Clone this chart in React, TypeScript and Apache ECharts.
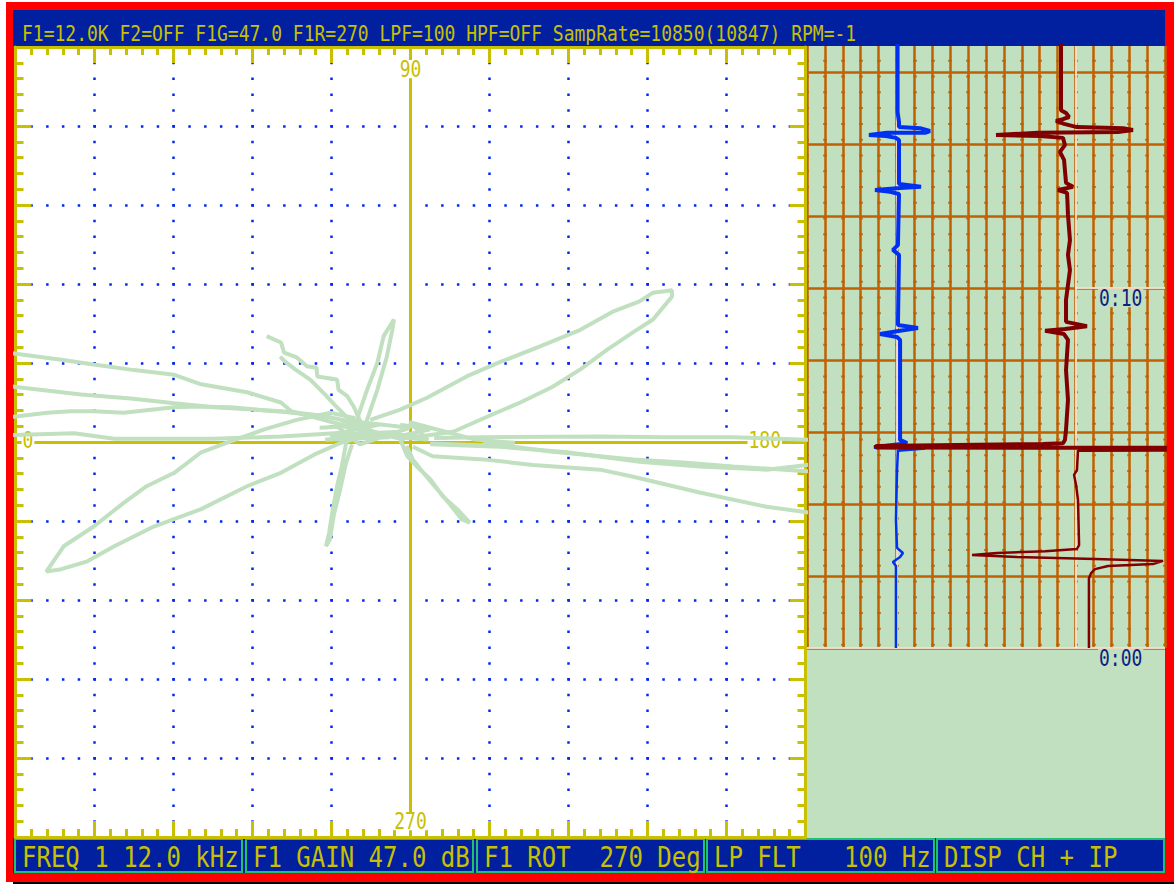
import React, { useEffect, useRef } from "react";
import * as echarts from "echarts";

type Pt = [number, number];

// ---------- texts ----------
const headerText =
  "F1=12.0K F2=OFF F1G=47.0 F1R=270 LPF=100 HPF=OFF SampRate=10850(10847) RPM=-1";
const footerCells = [
  "FREQ 1 12.0 kHz",
  "F1 GAIN 47.0 dB",
  "F1 ROT  270 Deg",
  "LP FLT   100 Hz",
  "DISP CH + IP",
];
const phaseLabels = ["0", "90", "180", "270"]; // left, top, right, bottom
const timeLabels = ["0:00", "0:10"];
const timeLabelValues = [0, 10];

// ---------- impedance-plane trace (divisions: x horizontal, y vertical) ----------
const sweepLeft1: Pt[] = [[-0.8, 0.2], [-1.51, 0.39], [-1.64, 0.5], [-2.07, 0.63], [-2.65, 0.73], [-2.99, 0.85], [-3.5, 0.91], [-4.01, 0.98], [-4.42, 1.04], [-5.02, 1.12], [-5.3, 1.15]];
const sweepLeft2: Pt[] = [[-0.59, 0.22], [-1.01, 0.31], [-1.64, 0.39], [-2.49, 0.44], [-2.99, 0.49], [-3.54, 0.55], [-4.17, 0.6], [-5.02, 0.7], [-5.3, 0.73]];
const sweepLeft3: Pt[] = [[-1.01, 0.32], [-1.44, 0.37], [-1.85, 0.4], [-2.27, 0.44], [-2.7, 0.45], [-2.99, 0.44], [-3.63, 0.37], [-4.01, 0.39], [-4.3, 0.39], [-4.6, 0.37], [-5.02, 0.32], [-5.3, 0.3]];
const sweepLeft4: Pt[] = [[-0.8, 0.12], [-1.64, 0.07], [-2.49, 0.04], [-3.75, 0.04], [-4.26, 0.11], [-5.02, 0.09], [-5.3, 0.09]];
const lobeLowerLeft: Pt[] = [[-0.7, 0.3], [-1.01, 0.37], [-1.44, 0.28], [-1.85, 0.16], [-2.27, 0.01], [-2.65, -0.13], [-2.99, -0.39], [-3.34, -0.56], [-3.63, -0.77], [-4.01, -1.07], [-4.39, -1.32], [-4.61, -1.64], [-4.42, -1.61], [-4.09, -1.51], [-3.75, -1.32], [-3.25, -1.07], [-2.65, -0.85], [-2.07, -0.56], [-1.64, -0.39], [-1.22, -0.16], [-0.88, -0.01], [-0.51, 0.09]];
const lobeUpperRight: Pt[] = [[-0.51, 0.28], [-0.13, 0.41], [0.21, 0.56], [0.71, 0.83], [1.13, 1.01], [1.64, 1.21], [2.15, 1.42], [2.56, 1.65], [2.9, 1.78], [3.07, 1.89], [3.31, 1.92], [3.31, 1.84], [3.07, 1.55], [2.82, 1.39], [2.49, 1.17], [2.15, 0.92], [1.8, 0.7], [1.39, 0.5], [0.97, 0.32], [0.54, 0.13], [0.12, 0.07], [-0.3, 0.1]];
const spikeUp: Pt[] = [[-0.68, 0.2], [-0.68, 0.28], [-0.55, 0.66], [-0.42, 1.0], [-0.34, 1.34], [-0.21, 1.55], [-0.23, 1.42], [-0.3, 1.08], [-0.42, 0.66], [-0.55, 0.28], [-0.61, 0.13]];
const spikeDown: Pt[] = [[-0.8, 0.07], [-0.87, -0.31], [-0.93, -0.56], [-0.99, -0.89], [-1.03, -1.15], [-1.07, -1.32], [-1.02, -1.23], [-0.97, -0.92], [-0.89, -0.6], [-0.82, -0.28], [-0.74, -0.03]];
const spikeDownRight: Pt[] = [[-0.13, 0.03], [-0.04, -0.18], [0.08, -0.31], [0.25, -0.47], [0.41, -0.69], [0.59, -0.85], [0.75, -1.02], [0.65, -0.98], [0.5, -0.79], [0.34, -0.6], [0.18, -0.41], [0.03, -0.22], [-0.05, -0.05]];
const wiggleUpperLeft: Pt[] = [[-1.82, 1.34], [-1.64, 1.26], [-1.6, 1.13], [-1.44, 1.07], [-1.31, 0.96], [-1.19, 0.94], [-1.18, 0.83], [-0.93, 0.79], [-0.91, 0.66], [-0.8, 0.58], [-0.72, 0.45], [-0.63, 0.25], [-0.77, 0.28], [-0.96, 0.47], [-1.08, 0.6], [-1.27, 0.79], [-1.46, 0.92], [-1.59, 1.02], [-1.65, 1.08]];
const sweepRight1: Pt[] = [[0.03, -0.06], [0.28, -0.18], [0.92, -0.22], [1.55, -0.29], [2.4, -0.35], [2.82, -0.44], [3.66, -0.64], [4.51, -0.82], [5.02, -0.89], [5.3, -0.92]];
const sweepRight2: Pt[] = [[0.92, -0.01], [1.77, -0.12], [2.82, -0.22], [3.45, -0.26], [4.08, -0.31], [5.02, -0.37], [5.3, -0.38]];
const sweepRight3: Pt[] = [[0.25, -0.03], [1.13, -0.06], [1.98, -0.13], [2.9, -0.25], [3.66, -0.31], [4.51, -0.35], [5.02, -0.29], [5.3, -0.27]];
const sweepRight4: Pt[] = [[0.3, 0.05], [0.92, 0.06], [2.4, 0.07], [3.25, 0.06], [4.08, 0.06], [5.02, 0.03], [5.3, 0.03]];
const clusterA: Pt[] = [[-1.15, 0.18], [-0.39, 0.22], [-1.02, 0.09], [-0.13, 0.13], [-1.08, 0.03], [-0.26, 0.06], [-0.89, 0.28], [-0.01, 0.18], [-0.64, -0.03], [-0.96, 0.22], [-0.07, 0.03]];
const clusterB: Pt[] = [[-0.13, 0.22], [0.25, 0.16], [-0.2, 0.06], [0.22, 0.03], [-0.01, 0.25], [0.82, 0.03], [1.32, -0.01], [0.88, -0.04], [0.25, -0.02]];

// ---------- strip chart (column units, seconds) ----------
const blueUpper: Pt[] = [[5.06, 16.8], [5.06, 14.89], [5.14, 14.61], [5.14, 14.47], [6.31, 14.44], [6.87, 14.36], [6.59, 14.31], [4.47, 14.31], [3.46, 14.25], [4.41, 14.22], [4.97, 14.17], [5.14, 14.11], [5.14, 12.89], [6.37, 12.81], [5.2, 12.78], [3.8, 12.72], [4.64, 12.67], [5.14, 12.61], [5.08, 11.19], [4.8, 11.06], [5.14, 10.92], [5.08, 8.97], [6.2, 8.89], [5.2, 8.81], [4.08, 8.72], [5.03, 8.64], [5.2, 8.56], [5.2, 5.78], [5.59, 5.69], [3.74, 5.58], [6.59, 5.56], [5.08, 5.5]];
const blueLower: Pt[] = [[5.08, 5.5], [5.03, 4.94], [4.97, 3.56], [5.03, 2.78], [5.36, 2.64], [5.2, 2.53], [4.8, 2.39], [4.97, 2.28], [4.97, 1.33], [4.97, 0]];
const redUpper: Pt[] = [[14.19, 16.8], [14.19, 14.94], [14.47, 14.86], [14.64, 14.75], [14.3, 14.69], [13.91, 14.64], [14.36, 14.56], [15.08, 14.47], [17.65, 14.44], [18.21, 14.39], [17.37, 14.33], [12.91, 14.31], [10.56, 14.25], [13.02, 14.22], [14.3, 14.17], [14.41, 13.97], [14.13, 13.78], [14.36, 13.56], [14.47, 12.92], [14.86, 12.81], [14.02, 12.72], [14.53, 12.64], [14.58, 12.03], [14.69, 11.33], [14.58, 10.92], [14.69, 10.5], [14.47, 9.67], [14.47, 9.06], [15.64, 8.94], [14.41, 8.86], [13.3, 8.81], [14.36, 8.72], [14.58, 8.56], [14.47, 7.72], [14.58, 6.89], [14.47, 6.06], [14.41, 5.78], [14.3, 5.69], [13.18, 5.67], [3.85, 5.61], [3.85, 5.57], [20.2, 5.56], [20.2, 5.51], [15.14, 5.5]];
const redLower: Pt[] = [[15.14, 5.5], [15.08, 4.94], [14.92, 4.81], [15.03, 4.53], [15.14, 4.11], [15.2, 2.86], [15.08, 2.75], [13.3, 2.69], [10.61, 2.64], [9.22, 2.58], [11.73, 2.53], [16.09, 2.47], [19.89, 2.42], [19.33, 2.33], [16.82, 2.28], [16.09, 2.19], [15.87, 2.08], [15.75, 1.94], [15.75, 0]];

// ---------- styling ----------
const RED = "#ff0000";
const BAR = "#0020a0";
const YEL = "#c8c000";
const DOT = "#0028f0";
const TRACE = "#c0e0c0";
const PANEL = "#c0e0c0";
const ORANGE = "#c06000";
const CELL = "#20c070";
const BLUE = "#0030f0";
const MAROON = "#800000";
const NAVY = "#102080";
const MONO = '"DejaVu Sans Mono", "Liberation Mono", monospace';

const planeStrokes: Pt[][] = [
  sweepLeft1, sweepLeft2, sweepLeft3, sweepLeft4, lobeLowerLeft, lobeUpperRight,
  spikeUp, spikeDown, spikeDownRight, wiggleUpperLeft,
  sweepRight1, sweepRight2, sweepRight3, sweepRight4, clusterA, clusterB,
];

function frameAxis(position: string, withGrid: boolean) {
  return {
    gridIndex: 0,
    type: "value",
    min: -5,
    max: 5,
    interval: 1,
    position,
    axisLine: { show: true, onZero: false, lineStyle: { color: YEL, width: 3 } },
    axisTick: { show: true, inside: true, length: 16, lineStyle: { color: YEL, width: 3 } },
    minorTick: { show: true, splitNumber: 5, length: 8, lineStyle: { color: YEL, width: 3 } },
    axisLabel: { show: false },
    splitLine: withGrid
      ? { show: true, lineStyle: { color: DOT, width: 2.5, type: [2.5, 13.3], dashOffset: 1.25 } }
      : { show: false },
  };
}

function text(x: number, y: number, str: string, size: number, sy: number, fill: string, extra: any = {}, z = -5) {
  const align = extra.align || "left";
  return {
    type: "text",
    x,
    y,
    scaleY: sy,
    z,
    silent: true,
    style: {
      text: str,
      font: `${size}px ${MONO}`,
      fill,
      align,
      textAlign: align,
      verticalAlign: "top",
      textVerticalAlign: "top",
      ...extra,
    },
  };
}

export default function App() {
  const ref = useRef<HTMLDivElement>(null);
  useEffect(() => {
    const chart = echarts.init(ref.current!, undefined, { renderer: "svg", width: 1174, height: 884 });

    const series: any[] = planeStrokes.map((d) => ({
      type: "line",
      xAxisIndex: 0,
      yAxisIndex: 0,
      data: d,
      showSymbol: false,
      symbol: "none",
      silent: true,
      z: 10,
      clip: true,
      lineStyle: { color: TRACE, width: 4 },
    }));
    series.push({
      type: "line",
      xAxisIndex: 0,
      yAxisIndex: 0,
      data: [],
      z: 3,
      silent: true,
      markLine: {
        silent: true,
        symbol: ["none", "none"],
        label: { show: false },
        lineStyle: { color: YEL, width: 3, type: "solid" },
        data: [{ xAxis: 0 }, { yAxis: 0 }],
      },
    });
    series.push({
      type: "line",
      xAxisIndex: 2,
      yAxisIndex: 2,
      data: [],
      z: 3,
      silent: true,
      markLine: {
        silent: true,
        symbol: ["none", "none"],
        label: { show: false },
        lineStyle: { color: "#ffffff", width: 1.5, type: "solid" },
        data: [{ xAxis: 5 }, { xAxis: 15 }, { yAxis: 0 }, [{ coord: [15, 10] }, { coord: [20, 10] }]],
      },
    });
    const strip = (d: Pt[], color: string, width: number) => ({
      type: "line",
      xAxisIndex: 2,
      yAxisIndex: 2,
      data: d,
      showSymbol: false,
      symbol: "none",
      silent: true,
      z: 10,
      clip: true,
      lineStyle: { color, width },
    });
    series.push(strip(blueUpper, BLUE, 4));
    series.push(strip(blueLower, BLUE, 2.5));
    series.push(strip(redUpper, MAROON, 4));
    series.push(strip(redLower, MAROON, 2.5));

    const hidden = { axisLine: { show: false }, axisTick: { show: false }, axisLabel: { show: false } };

    chart.setOption({
      animation: false,
      backgroundColor: "#ffffff",
      grid: [
        { left: 15.5, top: 47, width: 790, height: 790, outerBoundsMode: "none", containLabel: false },
        { left: 807, top: 46, width: 358, height: 602, outerBoundsMode: "none", containLabel: false },
      ],
      xAxis: [
        frameAxis("bottom", true),
        frameAxis("top", false),
        {
          gridIndex: 1, type: "value", min: 0, max: 20, interval: 1, ...hidden,
          splitLine: { show: true, lineStyle: { color: ORANGE, width: 2.5 } },
        },
        {
          gridIndex: 1, type: "value", min: 0, max: 20, interval: 1, ...hidden,
          splitLine: { show: true, lineStyle: { color: ORANGE, width: 3.5, type: [2, 13.78], dashOffset: 2.1 } },
        },
      ],
      yAxis: [
        frameAxis("left", true),
        frameAxis("right", false),
        {
          gridIndex: 1, type: "value", min: 0, max: 602 / 36, interval: 2, ...hidden,
          splitLine: { show: true, showMaxLine: false, lineStyle: { color: ORANGE, width: 2.5 } },
        },
      ],
      series,
    });

    const px = (finder: any, v: number) => chart.convertToPixel(finder, v) as number;
    const cx = px({ xAxisIndex: 0 }, 0);
    const cy = px({ yAxisIndex: 0 }, 0);
    const top = px({ yAxisIndex: 0 }, 5);
    const bottom = px({ yAxisIndex: 0 }, -5);
    const left = px({ xAxisIndex: 0 }, -5);
    const right = px({ xAxisIndex: 0 }, 5);
    const stripRight = px({ xAxisIndex: 2 }, 20);

    const cellX = [14, 245, 476, 706, 936];
    const cellW = 229;

    const elements: any[] = [
      { type: "rect", z: -20, silent: true, shape: { x: 6, y: 2, width: 1168, height: 880 }, style: { fill: RED } },
      { type: "rect", z: -20, silent: true, shape: { x: 13, y: 882, width: 1161, height: 2 }, style: { fill: "#000000" } },
      { type: "rect", z: -19, silent: true, shape: { x: 13, y: 10, width: 1152, height: 36 }, style: { fill: BAR } },
      { type: "rect", z: -19, silent: true, shape: { x: 14, y: 46, width: 793, height: 792 }, style: { fill: "#ffffff" } },
      { type: "rect", z: -19, silent: true, shape: { x: 806, y: 46, width: 359, height: 792 }, style: { fill: PANEL } },
      { type: "rect", z: -19, silent: true, shape: { x: 13, y: 838, width: 1152, height: 35 }, style: { fill: BAR } },
      text(22, 23, headerText, 18, 1.2, YEL),
    ];
    footerCells.forEach((t, i) => {
      elements.push({
        type: "rect", z: -18, silent: true,
        shape: { x: cellX[i] + 1, y: 839, width: cellW - 2, height: 33 },
        style: { fill: "none", stroke: CELL, lineWidth: 2 },
      });
      elements.push(text(cellX[i] + 8, 844, t, 24, 1.15, YEL));
    });

    const lab = { backgroundColor: "#ffffff", padding: [0, 1], lineHeight: 14 };
    elements.push(text(left + 6, cy - 11, phaseLabels[0], 18, 1.3, YEL, lab, 5));
    elements.push(text(cx, top + 13, phaseLabels[1], 18, 1.3, YEL, { ...lab, align: "center" }, 5));
    elements.push(text(right - 58, cy - 11, phaseLabels[2], 18, 1.3, YEL, lab, 5));
    elements.push(text(cx, bottom - 25, phaseLabels[3], 18, 1.3, YEL, { ...lab, align: "center" }, 5));

    timeLabels.forEach((t, i) => {
      const y = px({ yAxisIndex: 2 }, timeLabelValues[i]);
      elements.push(text(stripRight - 67, y + 1, t, 18, 1.3, NAVY, { backgroundColor: PANEL, padding: [0, 1], lineHeight: 14 }, 5));
    });

    chart.setOption({ graphic: { elements } });

    return () => chart.dispose();
  }, []);

  return (
    <div
      ref={ref}
      style={{ position: "absolute", left: 0, top: 0, width: 1174, height: 884, background: "#ffffff" }}
    />
  );
}
